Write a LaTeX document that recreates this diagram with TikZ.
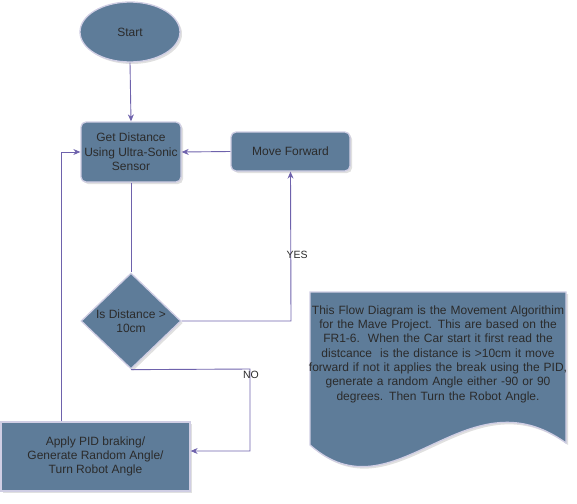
\documentclass[tikz,border=0pt]{standalone}
\usepackage{fontspec}
\setmainfont{Liberation Sans}
\usetikzlibrary{shapes.geometric,arrows.meta,shadows}
\definecolor{boxfill}{HTML}{5E7C99}
\definecolor{boxline}{HTML}{D0CEE4}
\definecolor{conn}{HTML}{6E62AC}
\definecolor{txt}{HTML}{2B2B2B}
\begin{document}
\begin{tikzpicture}[x=1pt,y=-1pt,
  every node/.style={font=\fontsize{12}{14.3}\selectfont, text=txt},
  shape base/.style={fill=boxfill, draw=boxline, line width=1.3pt, inner sep=0pt,
     drop shadow={shadow xshift=2pt, shadow yshift=-2pt, opacity=0.12, fill=black}},
  roundbox/.style={shape base, rectangle, rounded corners=5pt, align=center},
  flatbox/.style={shape base, rectangle, align=center},
  decision/.style={shape base, diamond, aspect=1.04, align=center},
  startnode/.style={shape base, ellipse},
  link/.style={draw=conn, line width=0.9pt},
  arrow/.style={link, -{Stealth[length=7pt,width=6pt]}},
  lbl/.style={font=\fontsize{10.5}{12}\selectfont}
]
\useasboundingbox (0,0) rectangle (577,503);

\node[startnode, minimum width=100pt, minimum height=60pt] (start) at (130,32) {Start};
\node[roundbox, minimum width=100pt, minimum height=60pt] (get) at (131,152) {Get Distance\\Using Ultra-Sonic\\Sensor};
\node[roundbox, minimum width=119pt, minimum height=39pt] (move) at (290.5,151.5) {Move Forward};
\node[decision, minimum width=100pt, minimum height=96pt] (dec) at (131,321) {};
\node[align=center] (dectext) at (131,321) {Is Distance >\\10cm};
\node[flatbox, minimum width=189pt, minimum height=69pt] (apply) at (95.5,456.5) {Apply PID braking/\\Generate Random Angle/\\Turn Robot Angle};

% document (note) shape
\path[shape base] (310,292) -- (566,292) -- (566,443)
   .. controls (465,370) and (395,520) .. (310,445) -- cycle;
\node[align=center, text width=262pt] (note) at (438,354)
 {This Flow Diagram is the Movement Algorithim\\for the Mave Project. This are based on the\\FR1-6.\ \ When the Car start it first read the\\distcance\ \ is the distance is >10cm it move\\forward if not it applies the break using the PID,\\generate a random Angle either -90 or 90\\degrees. Then Turn the Robot Angle.};

% connectors
\draw[arrow] (start.south) -- (get.north);
\draw[arrow] (move.west) -- (get.east);
\draw[link] (get.south) -- (dec.north);
\coordinate (yesc) at (291,321);
\draw[arrow] (dec.east) -- (yesc) -- (move.south);
\node[lbl] (yes) at (297,255) {YES};
\coordinate (noc1) at (250,369);
\coordinate (noc2) at (250,451);
\draw[arrow] (dec.south) -- (noc1) -- (noc2) -- (noc2 -| apply.east);
\node[lbl] (no) at (251,375) {NO};
\coordinate (back1) at (61,152);
\draw[arrow] (apply.north -| back1) -- (back1) -- (get.west);
\end{tikzpicture}
\end{document}
